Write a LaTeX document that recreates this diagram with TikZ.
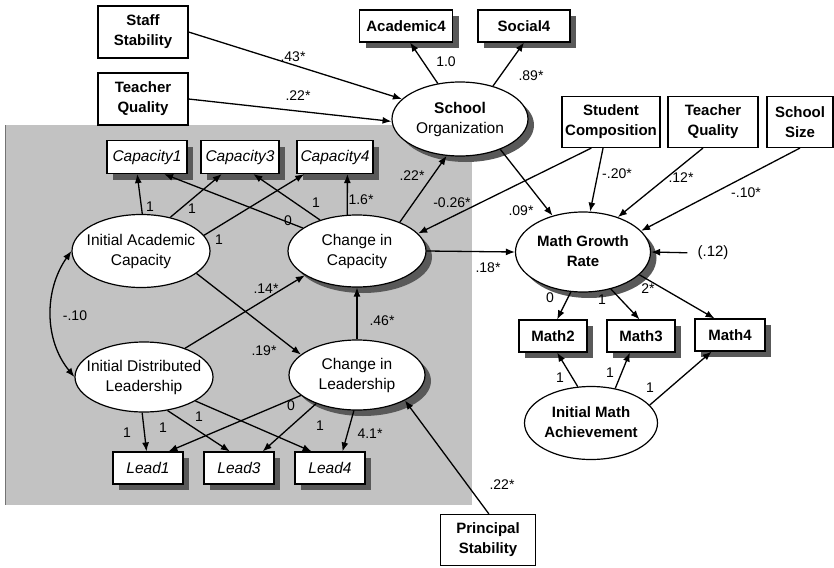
\documentclass[tikz,border=0pt]{standalone}
\usepackage{fontspec}
\setmainfont{Liberation Sans}
\usetikzlibrary{arrows.meta,shapes.geometric,shadows}
\newcommand\ctext[1]{\makebox[0pt]{\begin{tabular}{@{}c@{}}#1\end{tabular}}}
\tikzset{
  obs/.style={draw, line width=1.1pt, fill=white, rectangle, inner sep=0pt, align=center,
    font=\fontsize{15}{20}\selectfont\bfseries},
  obsi/.style={obs, font=\fontsize{15.5}{20}\selectfont\itshape},
  lat/.style={draw, line width=1.2pt, fill=white, ellipse, inner sep=0pt,
    font=\fontsize{15.5}{20}\selectfont},
  latb/.style={lat, font=\fontsize{15}{20}\selectfont\bfseries},
  shd/.style={drop shadow={shadow xshift=6pt, shadow yshift=-6pt, fill=black!65, opacity=1}},
  arr/.style={line width=1.3pt, -{Latex[length=9pt,width=7pt]}},
  coef/.style={font=\fontsize{14}{14}\selectfont, inner sep=0pt},
}
\begin{document}
\begin{tikzpicture}[x=1pt, y=-1pt]
\useasboundingbox (0,0) rectangle (834,567);
% shaded block
\fill[black!24] (5,125) rectangle (472,505);
\draw[black!55, line width=1pt] (5,125) -- (5,505);

% outside variables
\node[obs, minimum width=90pt, minimum height=52pt] (staff) at (143,32) {Staff\\Stability};
\node[obs, minimum width=90pt, minimum height=52pt] (tqual) at (143,99) {Teacher\\Quality};
\node[obs, shd, minimum width=93pt, minimum height=32pt] (acad4) at (406,26) {Academic4};
\node[obs, shd, minimum width=92pt, minimum height=32pt] (soc4) at (524,26) {Social4};
\node[lat, shd, minimum width=136pt, minimum height=74pt] (schorg) at (460,119) {\ctext{\textbf{School}\\Organization}};
\node[obs, minimum width=98pt, minimum height=51pt] (stucomp) at (611,122) {Student\\Composition};
\node[obs, minimum width=90pt, minimum height=51pt] (tqual2) at (713,122) {Teacher\\Quality};
\node[obs, minimum width=66pt, minimum height=51pt] (size) at (800,122) {School\\Size};
\node[latb, shd, minimum width=135pt, minimum height=80pt] (mgr) at (583,252) {\ctext{Math Growth\\Rate}};
\node[coef, font=\fontsize{15}{15}\selectfont] (res) at (713,253) {(.12)};
\node[obs, shd, minimum width=68pt, minimum height=32pt] (m2) at (553,336) {Math2};
\node[obs, shd, minimum width=68pt, minimum height=32pt] (m3) at (641,336) {Math3};
\node[obs, shd, minimum width=70pt, minimum height=32pt] (m4) at (730,335) {Math4};
\node[latb, minimum width=133pt, minimum height=73pt] (ima) at (591,423) {\ctext{Initial Math\\Achievement}};
\node[obs, minimum width=95pt, minimum height=51pt] (prin) at (488,540) {Principal\\Stability};

% shaded part
\node[obsi, shd, minimum width=80pt, minimum height=33pt] (cap1) at (147,157) {Capacity1};
\node[obsi, shd, minimum width=78pt, minimum height=33pt] (cap3) at (240,157) {Capacity3};
\node[obsi, shd, minimum width=76pt, minimum height=33pt] (cap4) at (335,157) {Capacity4};
\node[lat, minimum width=138pt, minimum height=73pt] (iac) at (141,251) {\ctext{Initial Academic\\Capacity}};
\node[lat, shd, minimum width=138pt, minimum height=72pt] (cic) at (357,251) {\ctext{Change in\\Capacity}};
\node[lat, minimum width=138pt, minimum height=70pt] (idl) at (144,377) {\ctext{Initial Distributed\\Leadership}};
\node[lat, shd, minimum width=136pt, minimum height=70pt] (cil) at (357,375) {\ctext{Change in\\Leadership}};
\node[obsi, shd, minimum width=70pt, minimum height=32pt] (lead1) at (148,468) {Lead1};
\node[obsi, shd, minimum width=70pt, minimum height=32pt] (lead3) at (239,468) {Lead3};
\node[obsi, shd, minimum width=70pt, minimum height=32pt] (lead4) at (330,468) {Lead4};

% paths
\draw[arr] (staff.east) -- (schorg.161);
\draw[arr] (tqual.east) -- (schorg.182);
\draw[arr] (schorg.122) -- (acad4.-76);
\draw[arr] (schorg.45) -- (soc4.south);
\draw[arr] (cic.34) -- (schorg.250);
\draw[arr] (schorg.-37) -- (mgr.130);
\draw[arr] (stucomp.-127) -- (cic.16);
\draw[arr] (stucomp.-107) -- (mgr.80);
\draw[arr] (tqual2.-111) -- (mgr.45);
\draw[arr] (size.south) -- (mgr.20);
\draw[arr] (cic.east) -- (mgr.west);
\draw[arr, shorten <=10pt] (res.west) -- (mgr.east);
\draw[arr] (mgr.-107) -- (m2.76);
\draw[arr] (mgr.-53) -- (m3.95);
\draw[arr] (mgr.-22) -- (m4.133);
\draw[arr] (ima.110) -- (m2.-76);
\draw[arr] (ima.55) -- (m3.-124);
\draw[arr] (ima.17) -- (m4.-138);
\draw[arr] (iac.88) -- (cap1.-120);
\draw[arr] (iac.49) -- (cap3.-137);
\draw[arr] (iac.14) -- (cap4.-151);
\draw[arr] (cic.157) -- (cap1.-45);
\draw[arr] (cic.140) -- (cap3.-52);
\draw[arr] (cic.105) -- (cap4.-54);
\draw[arr] (idl.35) -- (cic.205);
\draw[arr] (iac.-22) -- (cil.160);
\draw[arr] (cil.north) -- (cic.south);
\draw[line width=1.3pt, {Latex[length=9pt,width=7pt]}-{Latex[length=9pt,width=7pt]}]
  (iac.west) .. controls (44,290) and (44,340) .. (idl.west);
\draw[arr] (idl.-93) -- (lead1.95);
\draw[arr] (idl.-55) -- (lead3.119);
\draw[arr] (idl.-25) -- (lead4.138);
\draw[arr] (cil.200) -- (lead1.39);
\draw[arr] (cil.215) -- (lead3.35);
\draw[arr] (cil.-95) -- (lead4.53);
\draw[arr] (prin.88) -- (cil.-28);

% coefficients
\foreach \x/\y/\t/\n in {293/57/.43*/c43, 298/96/.22*/c22a, 446/62/1.0/c10a,
  531/76/.89*/c89, 617/174/-.20*/c20, 681/178/.12*/c12, 746/193/-.10*/c10b,
  521/211/.09*/c09, 452/203/-0.26*/c26, 412/176/.22*/c22b, 361/200/1.6*/c16,
  316/203/1/c1a, 288/221/0/c0a, 150/207/1/c1b, 192/209/1/c1c, 219/240/1/c1d,
  266/289/.14*/c14, 75/316/-.10/c10c, 382/321/.46*/c46, 264/351/.19*/c19,
  291/406/0/c0b, 199/417/1/c1e, 163/428/1/c1f, 127/433/1/c1g, 320/426/1/c1h,
  370/434/4.1*/c41, 502/485/.22*/c22c, 488/268/.18*/c18, 550/298/0/c0c,
  602/300/1/c1i, 648/289/2*/c2, 560/378/1/c1j, 610/373/1/c1k, 650/388/1/c1l}
  \node[coef] (\n) at (\x,\y) {\t};
\end{tikzpicture}
\end{document}
